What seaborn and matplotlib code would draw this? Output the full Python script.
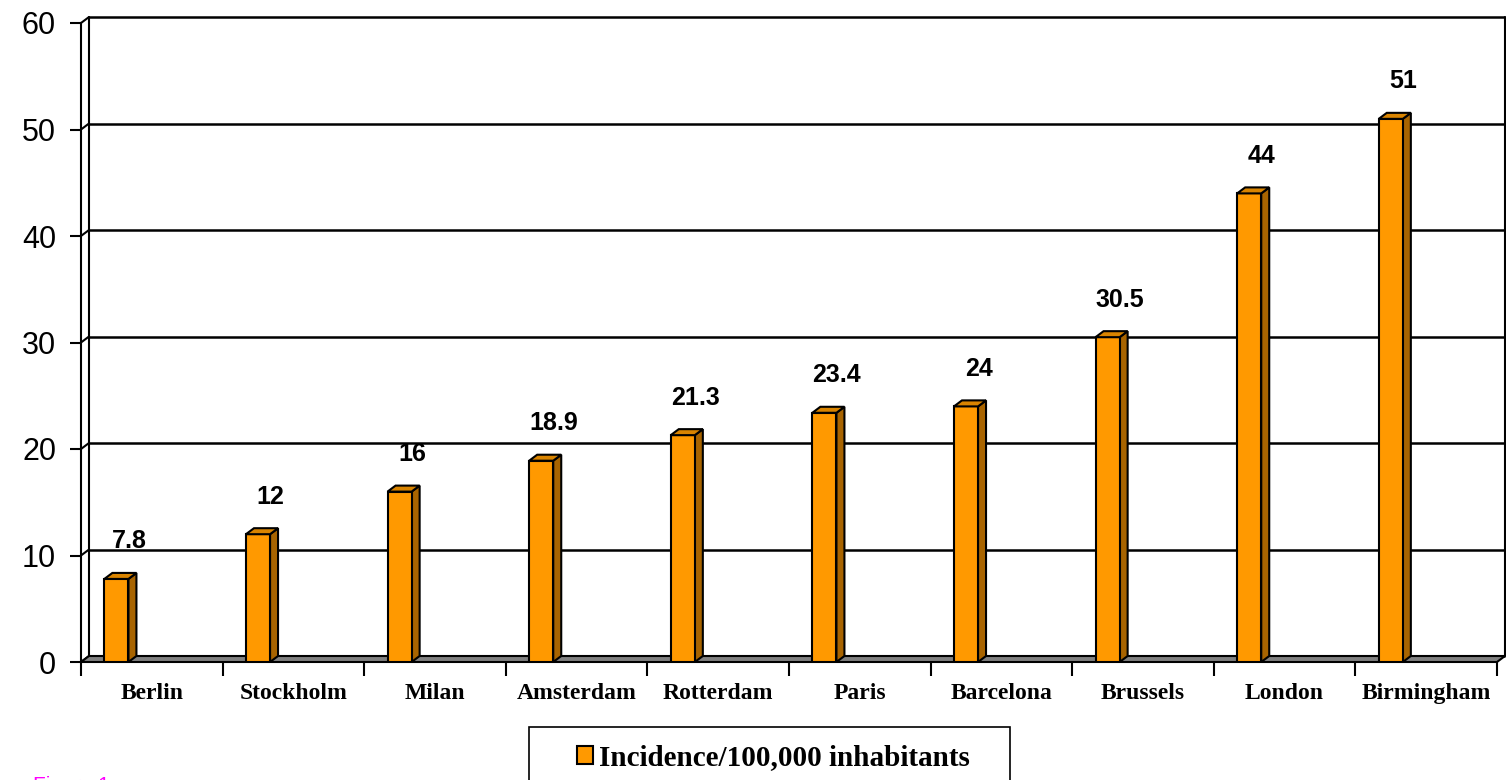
import numpy as np
import matplotlib.pyplot as plt
import seaborn as sns
from matplotlib.patches import Polygon, Rectangle, Patch

# ---------- data ----------
cities = ["Berlin", "Stockholm", "Milan", "Amsterdam", "Rotterdam", "Paris",
          "Barcelona", "Brussels", "London", "Birmingham"]
incidence = [7.8, 12, 16, 18.9, 21.3, 23.4, 24, 30.5, 44, 51]
value_labels = ["7.8", "12", "16", "18.9", "21.3", "23.4", "24", "30.5", "44", "51"]
y_ticks = [0, 10, 20, 30, 40, 50, 60]
legend_label = "Incidence/100,000 inhabitants"

# ---------- style ----------
sns.set_style("white", {"text.color": "black", "xtick.color": "black",
                        "ytick.color": "black", "axes.edgecolor": "black"})
plt.rcParams['font.family'] = ['Liberation Sans', 'DejaVu Sans']
serif_bold = dict(family=['Liberation Serif', 'DejaVu Serif'], weight='bold')

front = "#FF9900"
side = "#A86400"
top = "#D98400"

W, H = 1506, 780
fig = plt.figure(figsize=(W / 100, H / 100), dpi=100)
ax = fig.add_axes([81 / W, 1 - 662 / H, (1497 - 81) / W, (662 - 23) / H])

sns.barplot(x=cities, y=incidence, ax=ax, color=front, saturation=1,
            width=0.17, edgecolor="black", linewidth=1.5, zorder=4)

# bars sit at the left of each category slot
shift = 0.25
for p in ax.patches:
    p.set_x(p.get_x() - shift)

ax.set_xlim(-0.5, 9.5)
ax.set_ylim(0, 60)

# 3-D depth in data units (8px right, 6px up)
pos = ax.get_position()
dx = 8 / (pos.width * W / 10)
dy = 6 / (pos.height * H / 60)

# floor
x0, x1 = -0.5, 9.5
ax.add_patch(Polygon([(x0, 0), (x1, 0), (x1 + dx, dy), (x0 + dx, dy)],
                     closed=True, facecolor="#808080", edgecolor="black",
                     linewidth=1.5, zorder=2, clip_on=False))

# back wall gridlines + left wall
for t in y_ticks:
    ax.plot([x0 + dx, x1 + dx], [t + dy, t + dy], color="black", lw=1.8,
            zorder=1, clip_on=False, solid_capstyle="butt")
    ax.plot([x0, x0 + dx], [t, t + dy], color="black", lw=1.5,
            zorder=1, clip_on=False)
ax.plot([x0 + dx, x0 + dx], [dy, 60 + dy], color="black", lw=1.5, zorder=1, clip_on=False)
ax.plot([x1 + dx, x1 + dx], [dy, 60 + dy], color="black", lw=1.5, zorder=1, clip_on=False)

# side and top faces of bars
for p in ax.patches[:len(cities)]:
    if not isinstance(p, Rectangle) or p.get_height() <= 0:
        continue
    bx0 = p.get_x()
    bx1 = bx0 + p.get_width()
    h = p.get_height()
    ax.add_patch(Polygon([(bx1, 0), (bx1 + dx, dy), (bx1 + dx, h + dy), (bx1, h)],
                         closed=True, facecolor=side, edgecolor="black",
                         linewidth=1.5, zorder=3, clip_on=False))
    ax.add_patch(Polygon([(bx0, h), (bx1, h), (bx1 + dx, h + dy), (bx0 + dx, h + dy)],
                         closed=True, facecolor=top, edgecolor="black",
                         linewidth=1.5, zorder=5, clip_on=False))

# value labels
for i, (v, lab) in enumerate(zip(incidence, value_labels)):
    ax.annotate(lab, (i - shift, v), xytext=(9, 22), textcoords="offset points",
                ha="center", va="baseline", fontsize=18, fontweight="bold",
                color="black")

# axes, ticks
for s in ["top", "right", "bottom"]:
    ax.spines[s].set_visible(False)
ax.spines["left"].set_linewidth(1.5)
ax.spines["left"].set_color("black")

ax.set_yticks(y_ticks)
ax.tick_params(axis="y", left=True, length=8, width=1.5, color="black",
               labelsize=22, labelcolor="black", pad=10)
ax.set_xticks(range(len(cities)))
ax.set_xticklabels(cities, fontdict=dict(size=17, **serif_bold))
ax.tick_params(axis="x", which="major", length=0, pad=15, labelcolor="black")
ax.set_xticks(np.arange(-0.5, len(cities), 1), minor=True)
ax.tick_params(axis="x", which="minor", bottom=True, length=10, width=1.5,
               color="black", direction="out")
ax.set_xlabel("")
ax.set_ylabel("")
ax.grid(False)

# legend box (cut by the bottom edge like the source)
fig.patches.append(Rectangle((529 / W, -0.05), (1010 - 529) / W, 0.05 + (780 - 727) / H,
                             transform=fig.transFigure, facecolor="white",
                             edgecolor="black", linewidth=1.2, figure=fig))
fig.legend(handles=[Patch(facecolor=front, edgecolor="black", linewidth=1.5)],
           labels=[legend_label], loc="center left",
           bbox_to_anchor=(577 / W, 1 - 758 / H), frameon=False,
           borderpad=0, borderaxespad=0, handlelength=0.55, handleheight=0.55,
           handletextpad=0.2, prop=dict(size=21, **serif_bold))

fig.text(33 / W, 4 / H, "Figure 1", color="#FF00FF", fontsize=15, va="top")

fig.savefig("out.png", dpi=100)
